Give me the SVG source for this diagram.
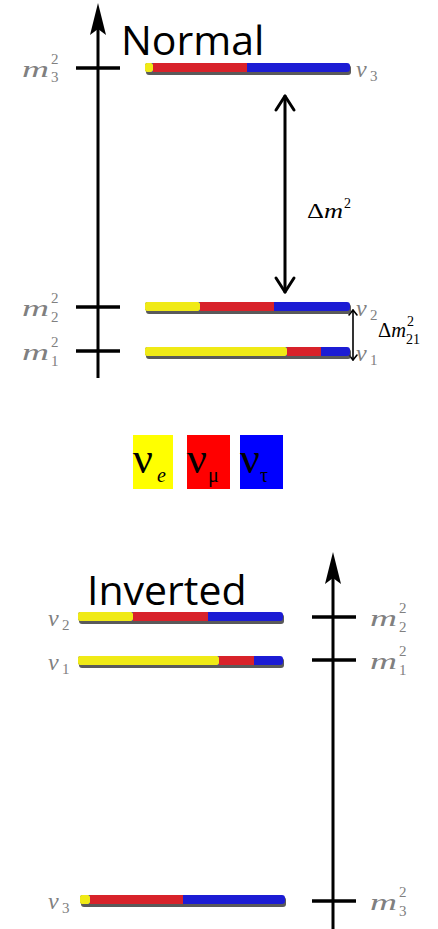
<svg xmlns="http://www.w3.org/2000/svg" width="438" height="929" viewBox="0 0 438 929">
<style>
.title{font-family:"Open Sans","Liberation Sans",sans-serif;font-size:41px;fill:#000}
.m{font-family:"Liberation Serif",serif;font-style:italic;font-size:24px;fill:#808080}
.d{font-family:"Liberation Serif",serif;font-size:15px;fill:#808080}
.nu{font-family:"Liberation Serif",serif;font-style:italic;font-size:24px;fill:#808080}
.dm{font-family:"Liberation Serif",serif;font-size:22px;fill:#000}
.dm2{font-family:"Liberation Serif",serif;font-size:20px;fill:#000}
.dms{font-family:"Liberation Serif",serif;font-size:14px;fill:#000}
.leg{font-family:"Liberation Serif",serif;font-size:44px;fill:#000}
.legs{font-family:"Liberation Serif",serif;font-size:20px;fill:#000}
.y{fill:#f0ea14}.r{fill:#d8202a}.b{fill:#1e1ed4}
.sh{fill:#3c3c3c;opacity:0.85}
.ax{stroke:#000;stroke-width:3;fill:none}
.tk{stroke:#000;stroke-width:3.5;fill:none}
.da{stroke:#000;stroke-width:3;fill:none;stroke-linecap:round;stroke-linejoin:round}
.sa{stroke:#000;stroke-width:1.6;fill:none;stroke-linecap:round;stroke-linejoin:round}
</style>
<defs>
<filter id="soft" x="-5%" y="-50%" width="110%" height="200%"><feGaussianBlur stdDeviation="0.7"/></filter>
</defs>

<g id="connectors">
<line class="ax" x1="98" y1="20" x2="98" y2="378"/>
<path d="M98,3 L106,35 L98,29 L90,35 Z" fill="#000"/>
<line class="tk" x1="76" y1="68" x2="120" y2="68"/>
<line class="tk" x1="76" y1="307" x2="120" y2="307"/>
<line class="tk" x1="76" y1="351" x2="120" y2="351"/>
<line class="da" x1="285" y1="96" x2="285" y2="292"/>
<path class="da" d="M276,110 L285,96 L294,110"/>
<path class="da" d="M276,278 L285,292 L294,278"/>
<line class="sa" x1="353" y1="310" x2="353" y2="360"/>
<path class="sa" d="M349,315 L353,310 L357,315"/>
<path class="sa" d="M349,355 L353,360 L357,355"/>
<line class="ax" x1="333" y1="570" x2="333" y2="929"/>
<path d="M333,552 L341,584 L333,578 L325,584 Z" fill="#000"/>
<line class="tk" x1="312" y1="617" x2="356" y2="617"/>
<line class="tk" x1="312" y1="660" x2="356" y2="660"/>
<line class="tk" x1="312" y1="901" x2="356" y2="901"/>
</g>

<g id="title-normal"><text class="title" x="121" y="55">Normal</text></g>

<g id="m3-normal">
<text class="m" x="22" y="77" textLength="27" lengthAdjust="spacingAndGlyphs">m</text>
<text class="d" x="51" y="64">2</text><text class="d" x="51" y="82">3</text>
</g>
<g id="m2-normal">
<text class="m" x="22" y="316" textLength="27" lengthAdjust="spacingAndGlyphs">m</text>
<text class="d" x="51" y="303">2</text><text class="d" x="51" y="322">2</text>
</g>
<g id="m1-normal">
<text class="m" x="22" y="360" textLength="27" lengthAdjust="spacingAndGlyphs">m</text>
<text class="d" x="51" y="347">2</text><text class="d" x="51" y="366">1</text>
</g>

<g id="nu3-normal">
<g filter="url(#soft)">
<rect class="sh" x="146" y="65" width="205" height="10" rx="3"/>
<rect class="b" x="145" y="63" width="205" height="9" rx="3"/>
<rect class="r" x="153" y="63" width="94" height="9"/>
<rect class="y" x="145" y="63" width="8" height="9" rx="2"/>
</g>
<text class="nu" x="356" y="77">ν</text><text class="d" x="370" y="81">3</text>
</g>
<g id="nu2-normal">
<g filter="url(#soft)">
<rect class="sh" x="146" y="304" width="205" height="10" rx="3"/>
<rect class="b" x="145" y="302" width="205" height="9" rx="3"/>
<rect class="r" x="200" y="302" width="74" height="9"/>
<rect class="y" x="145" y="302" width="55" height="9" rx="2"/>
</g>
<text class="nu" x="356" y="316">ν</text><text class="d" x="370" y="320">2</text>
</g>
<g id="nu1-normal">
<g filter="url(#soft)">
<rect class="sh" x="146" y="349" width="205" height="10" rx="3"/>
<rect class="b" x="145" y="347" width="205" height="9" rx="3"/>
<rect class="r" x="287" y="347" width="34" height="9"/>
<rect class="y" x="145" y="347" width="142" height="9" rx="2"/>
</g>
<text class="nu" x="356" y="361">ν</text><text class="d" x="370" y="365">1</text>
</g>

<g id="label-dm2">
<text x="307" y="218" textLength="36" lengthAdjust="spacingAndGlyphs"><tspan class="dm">Δ</tspan><tspan class="dm" font-style="italic">m</tspan></text>
<text class="dms" x="344" y="208">2</text>
</g>
<g id="label-dm21">
<text x="378" y="337" textLength="28" lengthAdjust="spacingAndGlyphs"><tspan class="dm2">Δ</tspan><tspan class="dm2" font-style="italic">m</tspan></text>
<text class="dms" x="407" y="326">2</text>
<text class="dms" x="406" y="344">21</text>
</g>

<g id="legend-e">
<rect x="133" y="435" width="40" height="54" fill="#ffff00"/>
<text class="leg" x="133" y="473">ν</text>
<text class="legs" x="157" y="482" font-style="italic">e</text>
</g>
<g id="legend-mu">
<rect x="187" y="435" width="43" height="54" fill="#ff0000"/>
<text class="leg" x="187" y="473">ν</text>
<text class="legs" x="208" y="482">μ</text>
</g>
<g id="legend-tau">
<rect x="240" y="435" width="43" height="54" fill="#0000ff"/>
<text class="leg" x="240" y="473">ν</text>
<text class="legs" x="260" y="482">τ</text>
</g>

<g id="title-inverted"><text class="title" x="87" y="605">Inverted</text></g>

<g id="nu2-inverted">
<g filter="url(#soft)">
<rect class="sh" x="79" y="614" width="205" height="10" rx="3"/>
<rect class="b" x="78" y="612" width="205" height="9" rx="3"/>
<rect class="r" x="133" y="612" width="75" height="9"/>
<rect class="y" x="78" y="612" width="55" height="9" rx="2"/>
</g>
<text class="nu" x="48" y="626">ν</text><text class="d" x="62" y="630">2</text>
</g>
<g id="nu1-inverted">
<g filter="url(#soft)">
<rect class="sh" x="79" y="658" width="205" height="10" rx="3"/>
<rect class="b" x="78" y="656" width="205" height="9" rx="3"/>
<rect class="r" x="219" y="656" width="35" height="9"/>
<rect class="y" x="78" y="656" width="141" height="9" rx="2"/>
</g>
<text class="nu" x="48" y="670">ν</text><text class="d" x="62" y="674">1</text>
</g>
<g id="nu3-inverted">
<g filter="url(#soft)">
<rect class="sh" x="81" y="897" width="205" height="10" rx="3"/>
<rect class="b" x="80" y="895" width="205" height="9" rx="3"/>
<rect class="r" x="90" y="895" width="93" height="9"/>
<rect class="y" x="80" y="895" width="10" height="9" rx="2"/>
</g>
<text class="nu" x="48" y="909">ν</text><text class="d" x="62" y="913">3</text>
</g>

<g id="m2-inverted">
<text class="m" x="370" y="626" textLength="27" lengthAdjust="spacingAndGlyphs">m</text>
<text class="d" x="399" y="613">2</text><text class="d" x="399" y="632">2</text>
</g>
<g id="m1-inverted">
<text class="m" x="370" y="669" textLength="27" lengthAdjust="spacingAndGlyphs">m</text>
<text class="d" x="399" y="656">2</text><text class="d" x="399" y="675">1</text>
</g>
<g id="m3-inverted">
<text class="m" x="370" y="910" textLength="27" lengthAdjust="spacingAndGlyphs">m</text>
<text class="d" x="399" y="897">2</text><text class="d" x="399" y="916">3</text>
</g>
</svg>
